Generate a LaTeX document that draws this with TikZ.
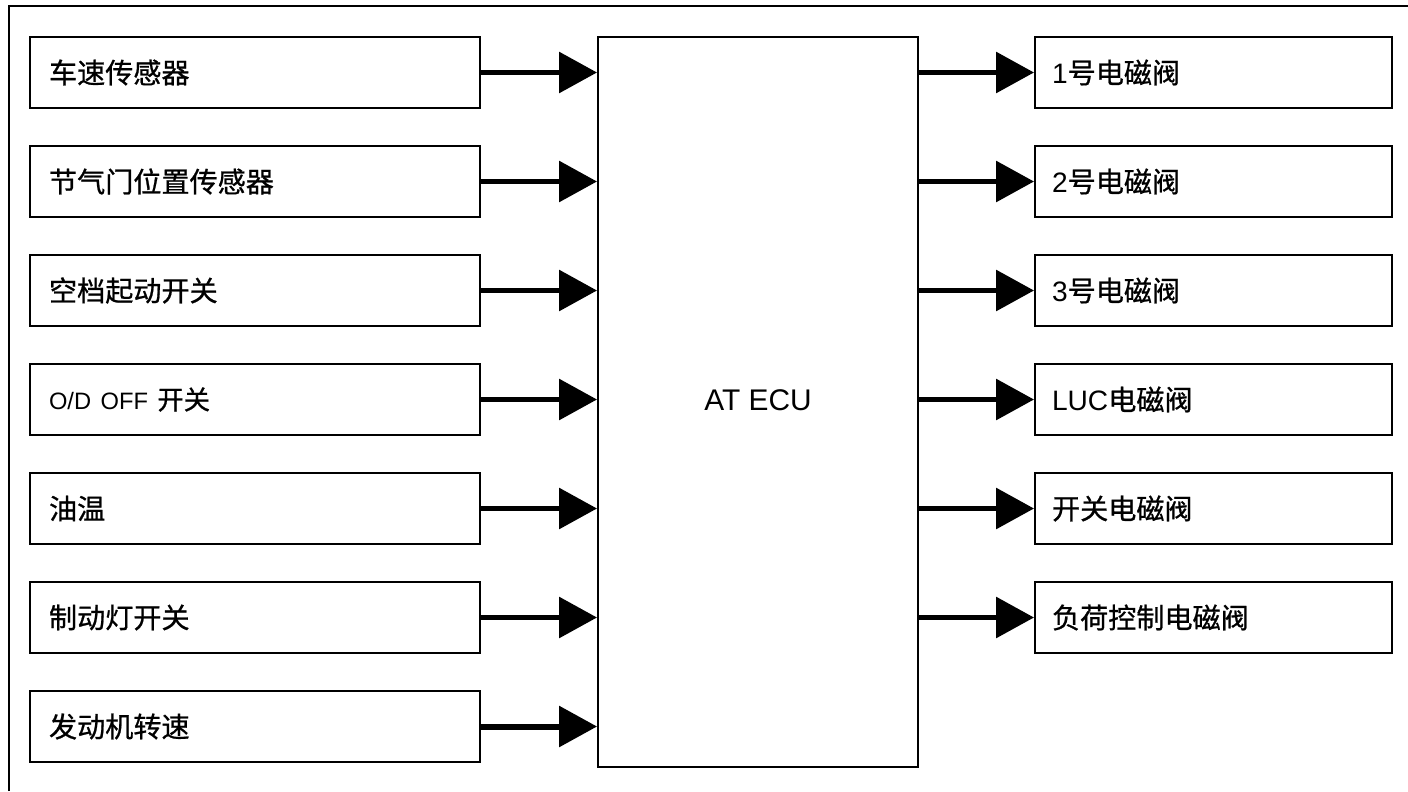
\documentclass[tikz,border=0pt]{standalone}
\usepackage{fontspec}
\setmainfont{Liberation Sans}
\newfontfamily\cjk[FakeBold=0.8]{Noto Sans CJK SC}
\usetikzlibrary{arrows.meta}

\tikzset{
	inbox/.style={draw,line width=1.1pt,minimum height=1.42cm,text width=8.24cm,inner xsep=0.38cm,inner ysep=0pt,align=left,font=\fontsize{16}{18}\selectfont},
	outbox/.style={draw,line width=1.1pt,minimum height=1.42cm,text width=6.46cm,inner xsep=0.34cm,inner ysep=0pt,align=left,font=\fontsize{16}{18}\selectfont},
	sig/.style={line width=3.4pt,-{Triangle[length=0.76cm,width=0.8cm]}}
}

\begin{document}
\begin{tikzpicture}[x=0.02cm,y=-0.02cm]
					\useasboundingbox (0,0) rectangle (1408,791);
					\draw[line width=1.7pt] (9,791) -- (9,6) -- (1408,6);
					\node[draw,line width=1.1pt,minimum width=6.4cm,minimum height=14.6cm,inner sep=0pt] (ecu) at (758,402) {};
					\node[font=\fontsize{17}{19}\selectfont] (ecutext) at (758,400) {AT ECU};
					\node[inbox] (in1) at (255,72.5) {\cjk 车速传感器};
					\node[inbox] (in2) at (255,181.5) {\cjk 节气门位置传感器};
					\node[inbox] (in3) at (255,290.5) {\cjk 空档起动开关};
					\node[inbox] (in4) at (255,399.5) {\fontsize{13.5}{15}\selectfont O/D OFF {\cjk\fontsize{15}{17}\selectfont 开关}};
					\node[inbox] (in5) at (255,508.5) {\cjk 油温};
					\node[inbox] (in6) at (255,617.5) {\cjk 制动灯开关};
					\node[inbox] (in7) at (255,726.5) {\cjk 发动机转速};
					\node[outbox] (out1) at (1213.5,72.5) {1{\cjk 号电磁阀}};
					\node[outbox] (out2) at (1213.5,181.5) {2{\cjk 号电磁阀}};
					\node[outbox] (out3) at (1213.5,290.5) {3{\cjk 号电磁阀}};
					\node[outbox] (out4) at (1213.5,399.5) {LUC{\cjk 电磁阀}};
					\node[outbox] (out5) at (1213.5,508.5) {\cjk 开关电磁阀};
					\node[outbox] (out6) at (1213.5,617.5) {\cjk 负荷控制电磁阀};
					\draw[sig] (in1.east) -- (in1.east -| ecu.west);
					\draw[sig] (in2.east) -- (in2.east -| ecu.west);
					\draw[sig] (in3.east) -- (in3.east -| ecu.west);
					\draw[sig] (in4.east) -- (in4.east -| ecu.west);
					\draw[sig] (in5.east) -- (in5.east -| ecu.west);
					\draw[sig] (in6.east) -- (in6.east -| ecu.west);
					\draw[sig] (in7.east) -- (in7.east -| ecu.west);
					\draw[sig] (ecu.east |- out1.west) -- (out1.west);
					\draw[sig] (ecu.east |- out2.west) -- (out2.west);
					\draw[sig] (ecu.east |- out3.west) -- (out3.west);
					\draw[sig] (ecu.east |- out4.west) -- (out4.west);
					\draw[sig] (ecu.east |- out5.west) -- (out5.west);
					\draw[sig] (ecu.east |- out6.west) -- (out6.west);
				\end{tikzpicture}
\end{document}
